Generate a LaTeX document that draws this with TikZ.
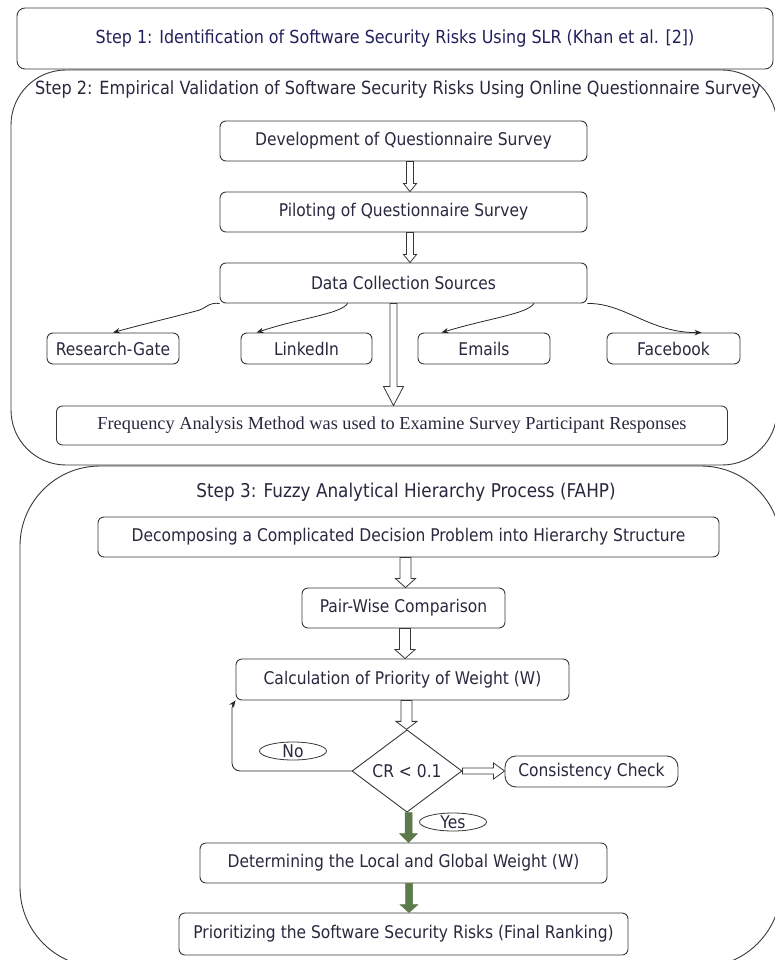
\documentclass[tikz,border=0pt]{standalone}
\usepackage{fontspec}
\setmainfont{DejaVu Sans}[FakeStretch=0.886]
\newfontfamily\serifx{Liberation Serif}
\usetikzlibrary{shapes.geometric,arrows.meta,calc}
\definecolor{txt}{RGB}{40,40,62}
\definecolor{stp}{RGB}{32,32,92}
\definecolor{lin}{RGB}{55,55,55}
\definecolor{grn}{RGB}{92,122,76}
\newcommand{\myvarrow}[6]{\draw[#1] let \p1=(#2), \p2=(#3) in (\x1-#4,\y1) -- (\x1-#4,\y2+#6) -- (\x1-#5,\y2+#6) -- (\x1,\y2) -- (\x1+#5,\y2+#6) -- (\x1+#4,\y2+#6) -- (\x1+#4,\y1) -- cycle;}
\tikzset{
 box/.style={draw=lin, line width=0.9pt, rounded corners=6pt, inner sep=0pt, text=txt, font=\fontsize{17.5}{20}\selectfont},
 cont/.style={draw=lin, line width=0.9pt, inner sep=0pt},
 ttl/.style={inner sep=0pt, text=txt},
 harrow/.style={draw=lin, line width=0.8pt, fill=white},
 garrow/.style={draw=grn, fill=grn, line width=0.5pt},
 conn/.style={draw=black!85, line width=0.8pt, -{Stealth[length=7pt,width=5.5pt]}},
 lbl/.style={ellipse, draw=lin, line width=0.8pt, minimum width=67pt, minimum height=18pt, inner sep=0pt},
 lbltext/.style={fill=white, inner sep=0.3pt, text=txt, font=\fontsize{17.5}{20}\selectfont},
}
\begin{document}
\begin{tikzpicture}[x=1pt,y=-1pt]
\useasboundingbox (0,0) rectangle (775,960);
\clip (0,0) rectangle (775,960);
% Step 1
\node[box, rounded corners=8pt, minimum width=756pt, minimum height=61pt, text=stp, font=\fontsize{18}{20}\selectfont] (s1) at (395,38.5) {Step 1: Identification of Software Security Risks Using SLR (Khan et al. [2])};
% Step 2 container
\node[cont, rounded corners=55pt, minimum width=766pt, minimum height=395pt] (s2) at (394,267.5) {};
\node[ttl, font=\fontsize{18.2}{21}\selectfont] (t2) at (398,89) {Step 2: Empirical Validation of Software Security Risks Using Online Questionnaire Survey};
\node[box, minimum width=367pt, minimum height=40pt] (dev) at (403.5,141) {Development of Questionnaire Survey};
\node[box, minimum width=367pt, minimum height=40pt] (pil) at (403.5,212) {Piloting of Questionnaire Survey};
\node[box, minimum width=367pt, minimum height=40pt] (dc) at (403.5,283) {Data Collection Sources};
\node[box, minimum width=132pt, minimum height=31pt] (rg) at (113,348.5) {Research-Gate};
\node[box, minimum width=131pt, minimum height=31pt] (li) at (306.5,348.5) {LinkedIn};
\node[box, minimum width=132pt, minimum height=31pt] (em) at (484,348.5) {Emails};
\node[box, minimum width=133pt, minimum height=31pt] (fb) at (673.5,348.5) {Facebook};
\node[box, minimum width=671pt, minimum height=39pt, font=\serifx\fontsize{18.3}{20}\selectfont] (fq) at (392,425.5) {Frequency Analysis Method was used to Examine Survey Participant Responses};
% Step 2 arrows
\myvarrow{harrow}{$(dev.south)+(6.5,0)$}{pil.north}{3.5pt}{6.5pt}{8pt}
\myvarrow{harrow}{$(pil.south)+(6.5,0)$}{dc.north}{3.5pt}{6.5pt}{8pt}
\myvarrow{harrow}{$(dc.south)+(-10,0)$}{fq.north}{3.5pt}{10pt}{19pt}
\draw[conn] (dc.south west) .. controls (208,302) and (206,309) .. (196,311) .. controls (170,318) and (140,325) .. (rg.north);
\draw[conn] ($(dc.south)+(-56,0)$) .. controls (341,314) and (300,318) .. ($(li.north west)+(16,0)$);
\draw[conn] ($(dc.south)+(130.5,0)$) .. controls (527,314) and (490,318) .. ($(em.north west)+(24,0)$);
\draw[conn] (dc.south east) .. controls (625,303) and (650,333) .. ($(fb.north west)+(95,0)$);
% Step 3 container
\node[cont, rounded corners=80pt, minimum width=761pt, minimum height=501pt] (s3) at (400.5,716.5) {};
\node[ttl, font=\fontsize{19}{21}\selectfont] (t3) at (406,492) {Step 3: Fuzzy Analytical Hierarchy Process (FAHP)};
\node[box, minimum width=621pt, minimum height=40pt] (dec) at (408.5,537) {Decomposing a Complicated Decision Problem into Hierarchy Structure};
\node[box, minimum width=203pt, minimum height=40pt] (pair) at (403.5,608) {Pair-Wise Comparison};
\node[box, minimum width=333pt, minimum height=41pt] (calc) at (402.5,679.5) {Calculation of Priority of Weight (W)};
\node[draw=lin, line width=0.9pt, diamond, minimum width=110pt, minimum height=80pt, inner sep=0pt, text=txt, font=\fontsize{17.5}{20}\selectfont] (dia) at (407,771) {CR < 0.1};
\node[box, rounded corners=11pt, minimum width=173pt, minimum height=31pt] (cons) at (591.5,771.5) {Consistency Check};
\node[box, minimum width=407pt, minimum height=40pt] (det) at (403.5,863) {Determining the Local and Global Weight (W)};
\node[box, minimum width=449pt, minimum height=42pt] (pri) at (403.5,934) {Prioritizing the Software Security Risks (Final Ranking)};
\node[lbl] (noe) at (293,751) {};
\node[lbltext] (not) at (293,751) {No};
\node[lbl] (yese) at (453,822) {};
\node[lbltext] (yest) at (453,822) {Yes};
% Step 3 arrows
\myvarrow{harrow}{$(dec.south)+(-3,0)$}{pair.north}{5.5pt}{10pt}{9pt}
\myvarrow{harrow}{$(pair.south)+(1.5,0)$}{calc.north}{5.5pt}{10pt}{9pt}
\myvarrow{harrow}{$(calc.south)+(4,0)$}{dia.north}{5.5pt}{10.5pt}{8pt}
\draw[harrow] let \p1=(dia.east), \p2=(cons.west) in (\x1,\y1+3pt) -- (\x2-11pt,\y1+3pt) -- (\x2-11pt,\y1+8pt) -- (\x2,\y1) -- (\x2-11pt,\y1-8pt) -- (\x2-11pt,\y1-3pt) -- (\x1,\y1-3pt) -- cycle;
\myvarrow{garrow}{$(dia.south)+(1.5,0)$}{det.north}{3.5pt}{9pt}{9pt}
\myvarrow{garrow}{$(det.south)+(5.5,0)$}{pri.north}{3.5pt}{9pt}{8pt}
\coordinate (lc) at (232,771);
\draw[conn, rounded corners=8pt] (dia.west) -- (lc) -- (232,716) .. controls (232,707) and (233,704) .. (calc.south west);
\end{tikzpicture}
\end{document}
